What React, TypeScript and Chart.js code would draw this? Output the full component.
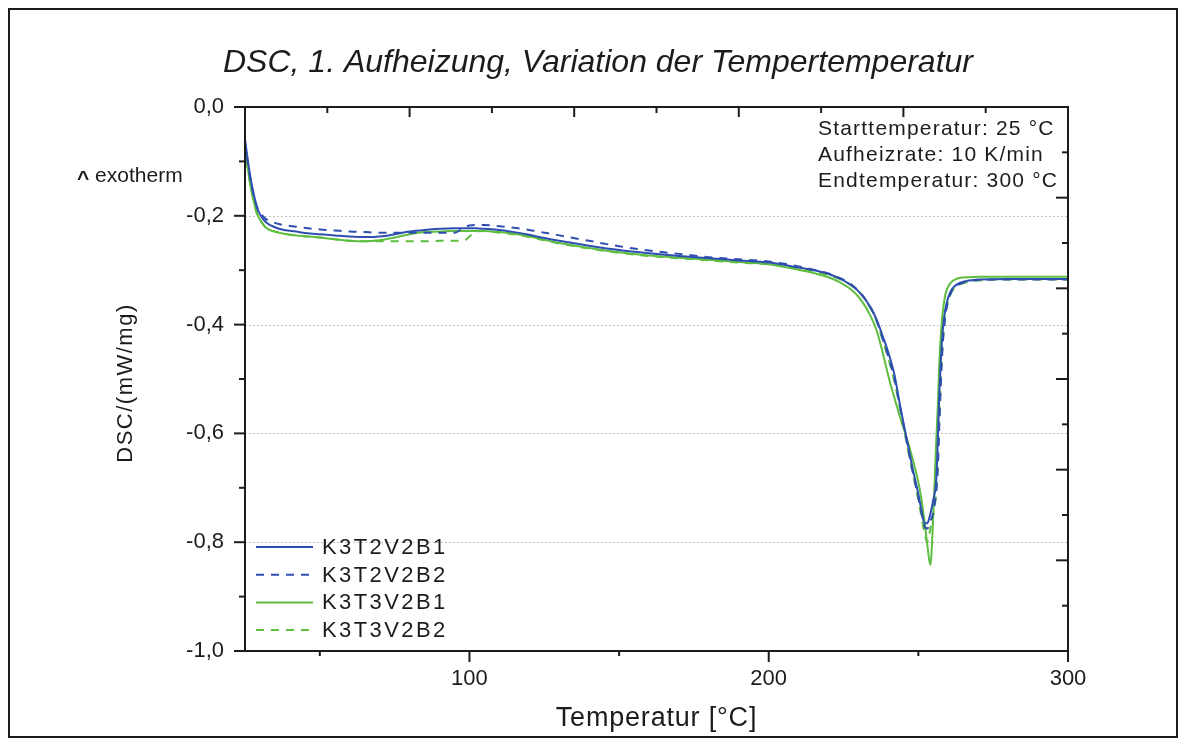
import React, { useEffect, useRef } from 'react';
import { Chart, registerables } from 'chart.js';

Chart.register(...registerables);

const temperature = [
  25, 26, 27, 28, 29, 30,
  32, 35, 38, 42, 46, 50,
  55, 60, 65, 70, 75, 80,
  85, 90, 95, 98, 100, 102,
  105, 110, 115, 120, 125, 130,
  140, 150, 160, 170, 180, 190,
  200, 210, 215, 220, 224, 228,
  231, 234, 236, 238, 240, 242,
  244, 246, 248, 250, 251, 252,
  253, 254, 255, 256, 256.5, 257,
  258, 259, 260, 261, 262, 264,
  267, 270, 280, 290, 300,
];

const k3t2v2b1 = [
  -0.06, -0.1, -0.135, -0.162, -0.185, -0.197,
  -0.212, -0.221, -0.226, -0.229, -0.232, -0.234,
  -0.236, -0.238, -0.239, -0.238, -0.234, -0.229,
  -0.226, -0.224, -0.223, -0.223, -0.223, -0.223,
  -0.224, -0.226, -0.23, -0.235, -0.241, -0.246,
  -0.255, -0.263, -0.269, -0.274, -0.278, -0.282,
  -0.286, -0.295, -0.3, -0.307, -0.316, -0.329,
  -0.345, -0.368, -0.39, -0.42, -0.452, -0.492,
  -0.552, -0.607, -0.662, -0.712, -0.74, -0.765,
  -0.765, -0.748, -0.722, -0.683, -0.612, -0.53,
  -0.42, -0.372, -0.35, -0.337, -0.33, -0.323,
  -0.319, -0.317, -0.316, -0.316, -0.316,
];

const k3t2v2b2 = [
  -0.065, -0.105, -0.14, -0.165, -0.183, -0.194,
  -0.206, -0.213, -0.217, -0.22, -0.223, -0.225,
  -0.227, -0.229, -0.23, -0.231, -0.231, -0.231,
  -0.231, -0.231, -0.231, -0.222, -0.218, -0.217,
  -0.217, -0.219, -0.222, -0.226, -0.231, -0.236,
  -0.246, -0.256, -0.264, -0.27, -0.276, -0.28,
  -0.284, -0.293, -0.299, -0.306, -0.315, -0.328,
  -0.344, -0.368, -0.392, -0.425, -0.46, -0.5,
  -0.555, -0.612, -0.668, -0.718, -0.745, -0.77,
  -0.775, -0.762, -0.745, -0.705, -0.665, -0.585,
  -0.45, -0.385, -0.356, -0.34, -0.332, -0.325,
  -0.32, -0.318, -0.317, -0.317, -0.317,
];

const k3t3v2b1 = [
  -0.075, -0.115, -0.15, -0.175, -0.196, -0.207,
  -0.222, -0.229, -0.233, -0.236, -0.238, -0.24,
  -0.243, -0.246, -0.247, -0.245, -0.24, -0.234,
  -0.23, -0.229, -0.228, -0.228, -0.228, -0.228,
  -0.228, -0.23, -0.233, -0.238, -0.244, -0.25,
  -0.259, -0.267, -0.273, -0.277, -0.281, -0.285,
  -0.289, -0.299, -0.305, -0.313, -0.323, -0.338,
  -0.356, -0.384, -0.41, -0.45, -0.495, -0.535,
  -0.572, -0.607, -0.645, -0.69, -0.72, -0.76,
  -0.805, -0.842, -0.748, -0.61, -0.55, -0.47,
  -0.385, -0.345, -0.33, -0.322, -0.318, -0.314,
  -0.313, -0.312, -0.312, -0.312, -0.312,
];

const k3t3v2b2 = [
  -0.075, -0.115, -0.15, -0.175, -0.196, -0.207,
  -0.222, -0.229, -0.233, -0.236, -0.238, -0.24,
  -0.243, -0.246, -0.247, -0.247, -0.247, -0.247,
  -0.247, -0.246, -0.246, -0.246, -0.238, -0.229,
  -0.228, -0.231, -0.234, -0.239, -0.245, -0.251,
  -0.26, -0.268, -0.274, -0.278, -0.282, -0.286,
  -0.289, -0.297, -0.302, -0.309, -0.317, -0.33,
  -0.345, -0.37, -0.393, -0.427, -0.463, -0.505,
  -0.558, -0.615, -0.67, -0.722, -0.752, -0.782,
  -0.8, -0.775, -0.748, -0.705, -0.65, -0.57,
  -0.445, -0.383, -0.356, -0.341, -0.333, -0.326,
  -0.321, -0.319, -0.317, -0.317, -0.317,
];

const seriesLabels = ['K3T2V2B1', 'K3T2V2B2', 'K3T3V2B1', 'K3T3V2B2'];
const seriesColors = ['#2F4FB0', '#2F4FB0', '#5DBE3F', '#5DBE3F'];
const seriesDashed = [false, true, false, true];

const xTickValues = [50, 100, 150, 200, 250, 300];
const xMajorTicks = [100, 200, 300];
const yTickValues = [-1.0, -0.9, -0.8, -0.7, -0.6, -0.5, -0.4, -0.3, -0.2, -0.1, 0.0];
const yGridValues = [-0.8, -0.6, -0.4, -0.2];

const titleText = 'DSC, 1. Aufheizung, Variation der Tempertemperatur';
const xAxisTitle = 'Temperatur [°C]';
const yAxisTitle = 'DSC/(mW/mg)';
const exoCaret = '^';
const exoText = 'exotherm';
const infoLines = ['Starttemperatur: 25 °C', 'Aufheizrate: 10 K/min', 'Endtemperatur: 300 °C'];

const FONT = '"Liberation Sans", Arial, Helvetica, sans-serif';
const INK = '#1c1c1c';

const isMajorY = (v: number) => Math.round(v * 10) % 2 === 0;

const decorPlugin = {
  id: 'decor',
  beforeDatasetsDraw(chart: any) {
    const { ctx, chartArea } = chart;
    const ys = chart.scales.y;
    ctx.save();
    ctx.strokeStyle = '#c4c4c4';
    ctx.lineWidth = 1;
    ctx.setLineDash([2, 2]);
    yGridValues.forEach((v) => {
      const py = Math.round(ys.getPixelForValue(v)) + 0.5;
      ctx.beginPath();
      ctx.moveTo(chartArea.left, py);
      ctx.lineTo(chartArea.right, py);
      ctx.stroke();
    });
    ctx.restore();
  },
  afterDatasetsDraw(chart: any) {
    const { ctx, chartArea } = chart;
    const xs = chart.scales.x;
    const ys = chart.scales.y;
    const { left, right, top, bottom } = chartArea;
    ctx.save();
    ctx.setLineDash([]);
    ctx.strokeStyle = INK;
    ctx.lineWidth = 2;
    ctx.beginPath();
    ctx.rect(left, top, right - left, bottom - top);
    ctx.stroke();
    yTickValues.forEach((v) => {
      const py = ys.getPixelForValue(v);
      const len = isMajorY(v) ? 11 : 6;
      ctx.beginPath();
      ctx.moveTo(left, py);
      ctx.lineTo(left - len, py);
      ctx.stroke();
    });
    xTickValues.forEach((v) => {
      const px = xs.getPixelForValue(v);
      const len = xMajorTicks.includes(v) ? 11 : 5;
      ctx.beginPath();
      ctx.moveTo(px, bottom);
      ctx.lineTo(px, bottom + len);
      ctx.stroke();
    });
    for (let k = 1; k < 10; k++) {
      const px = left + ((right - left) * k) / 10;
      const len = k % 2 === 0 ? 10 : 6;
      ctx.beginPath();
      ctx.moveTo(px, top);
      ctx.lineTo(px, top + len);
      ctx.stroke();
    }
    for (let k = 1; k < 12; k++) {
      const py = top + ((bottom - top) * k) / 12;
      const len = k % 2 === 0 ? 12 : 6;
      ctx.beginPath();
      ctx.moveTo(right, py);
      ctx.lineTo(right - len, py);
      ctx.stroke();
    }

    ctx.fillStyle = INK;
    chart.data.datasets.forEach((ds: any, i: number) => {
      const cy = bottom - 104 + i * 27.7;
      const lx = left + 11;
      ctx.save();
      ctx.strokeStyle = ds.borderColor;
      ctx.lineWidth = 2;
      ctx.setLineDash(ds.borderDash || []);
      ctx.beginPath();
      ctx.moveTo(lx, cy);
      ctx.lineTo(lx + 57, cy);
      ctx.stroke();
      ctx.restore();
      ctx.save();
      (ctx as any).letterSpacing = '2.4px';
      ctx.font = `22px ${FONT}`;
      ctx.textAlign = 'left';
      ctx.textBaseline = 'middle';
      ctx.fillStyle = INK;
      ctx.fillText(ds.label, lx + 66, cy + 1);
      ctx.restore();
    });

    ctx.save();
    (ctx as any).letterSpacing = '1.2px';
    ctx.font = `21px ${FONT}`;
    ctx.textAlign = 'left';
    ctx.textBaseline = 'alphabetic';
    infoLines.forEach((t, i) => {
      ctx.fillText(t, left + 573, top + 28 + i * 26);
    });
    ctx.restore();

    ctx.save();
    ctx.textAlign = 'left';
    ctx.textBaseline = 'alphabetic';
    ctx.font = `bold 21px ${FONT}`;
    ctx.fillText(exoCaret, 67, 175);
    const cw = ctx.measureText(exoCaret + ' ').width;
    ctx.font = `21px ${FONT}`;
    ctx.fillText(exoText, 67 + cw, 172);
    ctx.restore();

    ctx.save();
    ctx.font = `italic 32px ${FONT}`;
    ctx.textAlign = 'center';
    ctx.textBaseline = 'alphabetic';
    ctx.fillText(titleText, chart.width / 2 + 5, 62);
    ctx.restore();

    ctx.save();
    (ctx as any).letterSpacing = '0.8px';
    ctx.font = `27px ${FONT}`;
    ctx.textAlign = 'center';
    ctx.textBaseline = 'alphabetic';
    ctx.fillText(xAxisTitle, (left + right) / 2, 716);
    ctx.restore();

    ctx.save();
    (ctx as any).letterSpacing = '1.5px';
    ctx.font = `22px ${FONT}`;
    ctx.translate(116, (top + bottom) / 2 + 4);
    ctx.rotate(-Math.PI / 2);
    ctx.textAlign = 'center';
    ctx.textBaseline = 'middle';
    ctx.fillText(yAxisTitle, 0, 0);
    ctx.restore();

    ctx.restore();
  },
};

export default function App() {
  const canvasRef = useRef<HTMLCanvasElement | null>(null);

  useEffect(() => {
    if (!canvasRef.current) return;
    const seriesValues = [k3t2v2b1, k3t2v2b2, k3t3v2b1, k3t3v2b2];
    const chart = new Chart(canvasRef.current, {
      type: 'line',
      data: {
        datasets: seriesValues.map((vals, i) => ({
          label: seriesLabels[i],
          data: temperature.map((t, j) => ({ x: t, y: vals[j] })),
          borderColor: seriesColors[i],
          backgroundColor: seriesColors[i],
          borderWidth: 2,
          borderDash: seriesDashed[i] ? [8, 7] : [],
          pointRadius: 0,
          fill: false,
          cubicInterpolationMode: 'monotone' as const,
        })),
      },
      options: {
        responsive: false,
        animation: false,
        events: [],
        layout: { padding: { top: 97, right: 108, left: 0, bottom: 0 } },
        plugins: {
          legend: { display: false },
          title: { display: false },
          tooltip: { enabled: false },
        },
        scales: {
          x: {
            type: 'linear',
            min: 25,
            max: 300,
            afterBuildTicks: (scale: any) => {
              scale.ticks = xTickValues.map((v) => ({ value: v }));
            },
            afterFit: (scale: any) => {
              scale.height = 85;
            },
            grid: { display: false, drawTicks: false, tickLength: 0 },
            border: { display: false },
            ticks: {
              autoSkip: false,
              maxRotation: 0,
              padding: 15,
              color: INK,
              font: { family: FONT, size: 22 },
              callback: (v: any) => (xMajorTicks.includes(Number(v)) ? String(v) : ''),
            },
          },
          y: {
            type: 'linear',
            min: -1,
            max: 0,
            afterBuildTicks: (scale: any) => {
              scale.ticks = yTickValues.map((v) => ({ value: v }));
            },
            afterFit: (scale: any) => {
              scale.width = 235;
            },
            grid: { display: false, drawTicks: false, tickLength: 0 },
            border: { display: false },
            ticks: {
              autoSkip: false,
              padding: 21,
              color: INK,
              font: { family: FONT, size: 22 },
              callback: (v: any) => {
                const r = Math.round(Number(v) * 10);
                if (r % 2 !== 0) return '';
                return (r / 10).toFixed(1).replace('.', ',');
              },
            },
          },
        },
      },
      plugins: [decorPlugin],
    });
    return () => chart.destroy();
  }, []);

  return (
    <div
      style={{
        width: 1166,
        height: 726,
        border: '2px solid #1c1c1c',
        background: '#fff',
      }}
    >
      <canvas ref={canvasRef} width={1166} height={726} style={{ display: 'block' }} />
    </div>
  );
}
